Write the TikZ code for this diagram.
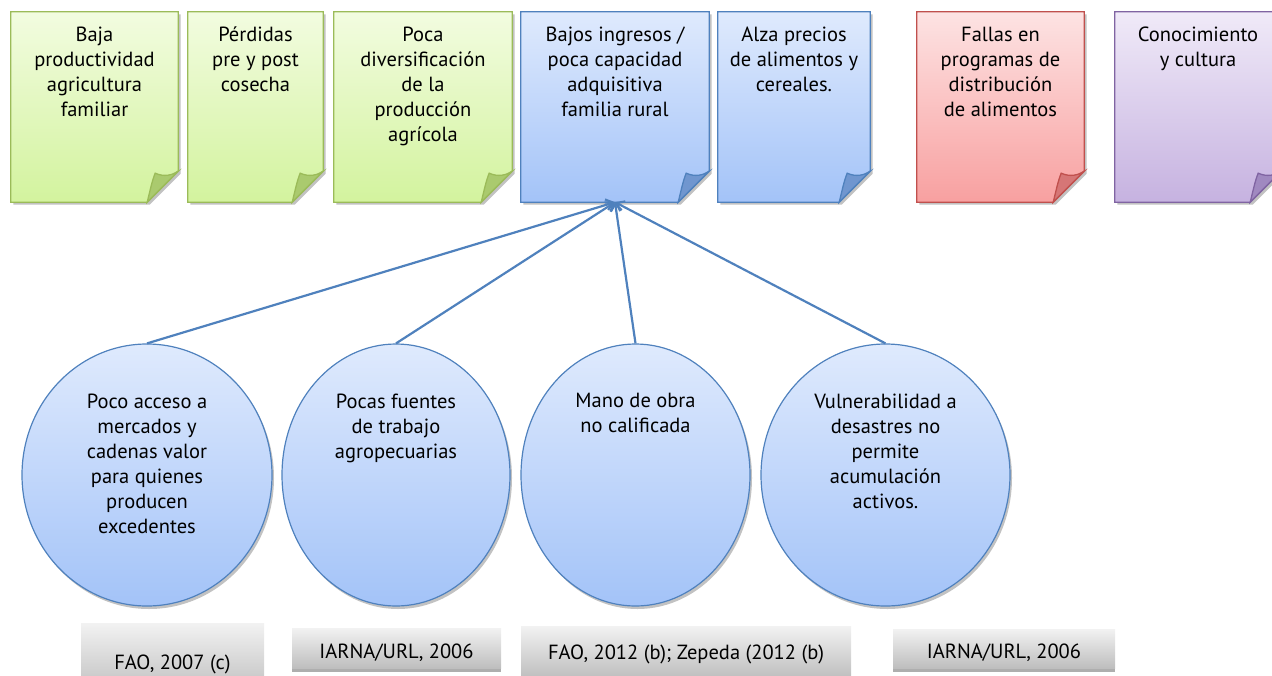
\documentclass[tikz,border=0pt]{standalone}
\usepackage{fontspec}
\setmainfont{PT Sans}
\usetikzlibrary{arrows.meta,shapes.geometric,shadows,backgrounds}

\definecolor{greenline}{HTML}{9BBB59}
\definecolor{greentop}{HTML}{F2FCE0}
\definecolor{greenbot}{HTML}{D3F39E}
\definecolor{greenfold}{HTML}{AACA6E}
\definecolor{blueline}{HTML}{4F81BD}
\definecolor{bluetop}{HTML}{DFEAFD}
\definecolor{bluebot}{HTML}{A3C3F8}
\definecolor{bluefold}{HTML}{7096CF}
\definecolor{redline}{HTML}{C0504D}
\definecolor{redtop}{HTML}{FDE3E3}
\definecolor{redbot}{HTML}{F8A0A0}
\definecolor{redfold}{HTML}{D67676}
\definecolor{purpleline}{HTML}{8064A2}
\definecolor{purpletop}{HTML}{F0EAF8}
\definecolor{purplebot}{HTML}{C6B2E0}
\definecolor{purplefold}{HTML}{A089C0}
\definecolor{sourcetop}{HTML}{F2F2F2}
\definecolor{sourcebot}{HTML}{BEBEBE}

\begin{document}
\begin{tikzpicture}[
		x=1pt, y=-1pt,
		font=\fontsize{20.5}{25}\selectfont,
		page/.style={minimum width=#1, minimum height=190pt, inner sep=0pt},
		pagetext/.style={anchor=north, align=center, inner sep=0pt, yshift=-15pt},
		pageshape/.style={draw=#1line, line width=1.3pt, top color=#1top, bottom color=#1bot,
			drop shadow={shadow xshift=2.5pt, shadow yshift=-2.5pt, fill=black!40, opacity=.6}},
		foldshape/.style={draw=#1line, line width=1.3pt, fill=#1fold},
		cause/.style={ellipse, draw=blueline, line width=1.2pt, top color=bluetop, bottom color=bluebot,
			minimum width=#1, minimum height=262pt, inner sep=0pt,
			drop shadow={shadow xshift=2pt, shadow yshift=-3pt, fill=black!40, opacity=.6}},
		causetext/.style={anchor=north, align=center, inner sep=0pt, yshift=-50pt},
		source/.style={top color=sourcetop, bottom color=sourcebot, minimum width=#1, inner sep=0pt,
			text height=20pt, text depth=0pt,
			drop shadow={shadow xshift=0pt, shadow yshift=-4pt, fill=black!45, opacity=.7}},
		arrow/.style={draw=blueline, line width=2.2pt, -{Straight Barb[length=7pt, width=11pt]}},
	]
		\useasboundingbox (0,0) rectangle (1272,675);

		\node [page=167pt, label={[pagetext]north:{Baja\\productividad\\agricultura\\familiar}}] (baja) at (94.5,107) {};
		\node [page=135pt, label={[pagetext]north:{Pérdidas\\pre y post\\cosecha}}] (perdidas) at (255.5,107) {};
		\node [page=178pt, label={[pagetext]north:{Poca\\diversificación\\de la\\producción\\agrícola}}] (diversif) at (423,107) {};
		\node [page=188pt, label={[pagetext]north:{Bajos ingresos /\\poca capacidad\\adquisitiva\\familia rural}}] (ingresos) at (615,107) {};
		\node [page=152pt, label={[pagetext]north:{Alza precios\\de alimentos y\\cereales.}}] (precios) at (794,107) {};
		\node [page=167pt, label={[pagetext]north:{Fallas en\\programas de\\distribución\\de alimentos}}] (fallas) at (1000.5,107) {};
		\node [page=166pt, label={[pagetext]north:{Conocimiento\\y cultura}}] (cultura) at (1198,107) {};

		\begin{scope}[on background layer]
			\foreach \n/\k in {baja/green, perdidas/green, diversif/green, ingresos/blue, precios/blue, fallas/red, cultura/purple} {
				\draw [pageshape=\k] (\n.north west) -- (\n.north east) -- ([yshift=31pt]\n.south east)
					-- ([xshift=-31pt]\n.south east) -- (\n.south west) -- cycle;
				\draw [foldshape=\k, shift={(\n.south east)}] (-31,0) .. controls (-28,-12) and (-26,-22) .. (-23,-29)
					.. controls (-14,-25) and (-6,-27) .. (0,-31) -- cycle;
			}
		\end{scope}

		\node [cause=250pt, label={[causetext]north:{Poco acceso a\\mercados y\\cadenas valor\\para quienes\\producen\\excedentes}}] (acceso) at (147,475) {};
		\node [cause=228pt, label={[causetext]north:{Pocas fuentes\\de trabajo\\agropecuarias}}] (fuentes) at (396,475) {};
		\node [cause=229pt, label={[causetext]north:{Mano de obra\\no calificada}}] (obra) at (635.5,475) {};
		\node [cause=249pt, label={[causetext]north:{Vulnerabilidad a\\desastres no\\permite\\acumulación\\activos.}}] (desastres) at (885.5,475) {};

		\node [source=183pt, minimum height=72pt] (fao07) at (172.5,659) {FAO, 2007 (c)};
		\node [source=209pt, minimum height=40pt] (iarna a) at (396.5,648) {IARNA/URL, 2006};
		\node [source=330pt, minimum height=52pt, text height=14pt] (fao12) at (686,652) {FAO, 2012 (b); Zepeda (2012 (b)};
		\node [source=222pt, minimum height=39pt] (iarna b) at (1004,648.5) {IARNA/URL, 2006};

		\foreach \c in {acceso, fuentes, obra, desastres}
			\draw [arrow] (\c.north) -- (ingresos.south);
	\end{tikzpicture}
\end{document}
